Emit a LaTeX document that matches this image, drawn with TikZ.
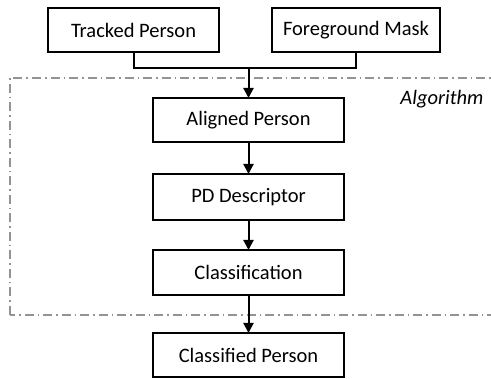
\documentclass[tikz,border=0pt]{standalone}
\usepackage{fontspec}
\setmainfont{Carlito}
\usetikzlibrary{arrows.meta}
\begin{document}
\begin{tikzpicture}[x=1pt,y=1pt,
  blk/.style={draw=black, line width=2pt, inner sep=0pt, outer sep=0pt, font=\fontsize{20.5}{24}\selectfont},
  conn/.style={line width=2pt},
  arr/.style={conn, -{Triangle[length=10pt,width=10pt]}}]
\useasboundingbox (0,0) rectangle (491,379);
\draw[gray!85, line width=1.4pt, dash pattern=on 9pt off 4pt on 1.5pt off 4pt] (10,64) rectangle (497,301);
\node[anchor=east, font=\fontsize{20.5}{24}\selectfont\itshape] (alg) at (487,280) {Algorithm};
\node[blk, minimum width=171pt, minimum height=44pt] (tp) at (133.5,349) {Tracked Person};
\node[blk, minimum width=168pt, minimum height=44pt] (fm) at (356,349) {Foreground Mask};
\node[blk, minimum width=191pt, minimum height=44pt] (ap) at (248.5,259) {Aligned Person};
\node[blk, minimum width=191pt, minimum height=46pt] (pd) at (248.5,182) {PD Descriptor};
\node[blk, minimum width=191pt, minimum height=45pt] (cl) at (248.5,106.5) {Classification};
\node[blk, minimum width=191pt, minimum height=44pt] (cp) at (248.5,24) {Classified Person};
\coordinate (j) at (248.5,311);
\draw[conn] (tp.south) |- (j) -| (fm.south);
\draw[arr] (j) -- (ap.north);
\draw[arr] (ap) -- (pd);
\draw[arr] (pd) -- (cl);
\draw[arr] (cl) -- (cp);
\end{tikzpicture}
\end{document}
